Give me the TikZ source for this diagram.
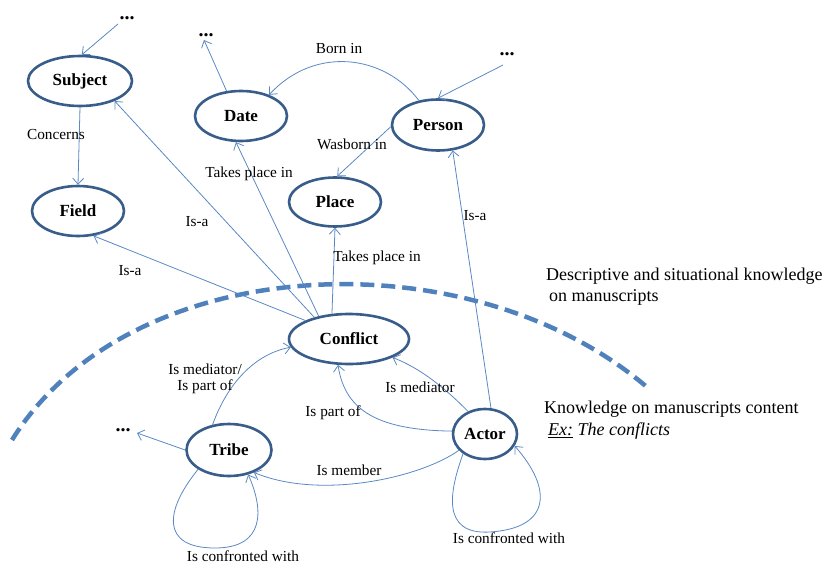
\documentclass[tikz,border=0pt]{standalone}
\usepackage{fontspec}
\setmainfont{Liberation Serif}
\usetikzlibrary{arrows.meta,shapes.geometric}
\definecolor{nodeblue}{RGB}{56,93,138}
\definecolor{edgeblue}{RGB}{90,136,196}
\definecolor{dashblue}{RGB}{79,129,189}
\tikzset{
  concept/.style={ellipse, draw=nodeblue, line width=2.6pt, fill=white, inner sep=0pt, font=\fontsize{17}{19}\selectfont\bfseries},
  link/.style={draw=edgeblue, line width=0.8pt, -{Straight Barb[length=6pt,width=11pt]}},
  lab/.style={font=\fontsize{15.3}{16.5}\selectfont, inner sep=0pt},
  side/.style={font=\fontsize{18}{21}\selectfont, inner sep=0pt, anchor=west},
  dots/.style={font=\fontsize{20}{20}\selectfont\bfseries, inner sep=0pt},
  divider/.style={draw=dashblue, line width=4.5pt, dash pattern=on 14pt off 7pt}
}
\begin{document}
\begin{tikzpicture}[x=1pt,y=-1pt]
\useasboundingbox (0,0) rectangle (829,564);
\draw[divider] (12,440) .. controls (130,250) and (470,235) .. (648,388);

% concept nodes
\node[concept, minimum width=104pt, minimum height=50pt] (subject)  at (80,81)   {Subject};
\node[concept, minimum width=92pt,  minimum height=50pt] (field)    at (78,211)  {Field};
\node[concept, minimum width=92pt,  minimum height=50pt] (date)     at (241,116) {Date};
\node[concept, minimum width=92pt,  minimum height=51pt] (person)   at (438,125) {Person};
\node[concept, minimum width=92pt,  minimum height=49pt] (place)    at (335,202) {Place};
\node[concept, minimum width=120pt, minimum height=50pt] (conflict) at (349,339) {Conflict};
\node[concept, minimum width=85pt,  minimum height=52pt] (tribe)    at (229,450) {Tribe};
\node[concept, minimum width=64pt,  minimum height=50pt] (actor)    at (485,434) {Actor};

% ellipsis marks
\node[dots] (d1) at (127,18) {...};
\node[dots] (d2) at (206,35) {...};
\node[dots] (d3) at (507,54) {...};
\node[dots] (d4) at (123,430) {...};
\coordinate (d1e) at (118,24);
\coordinate (d2e) at (204,40);
\coordinate (d3e) at (503,65);
\coordinate (d4e) at (137,433);

% connectors
\draw[link] (d1e) -- (subject.86);
\draw[link] (subject.south) -- (field.north);
\draw[link] (date.120) -- (d2e);
\draw[link] (person.128) .. controls (385,55) and (315,45) .. (date.37);
\draw[link] (d3e) -- (person.90);
\draw[link] (person.182) -- (place.85);
\draw[link] (conflict.148) -- (subject.-30);
\draw[link] (conflict.157) -- (field.-58);
\draw[link] (conflict.143) -- (date.-101);
\draw[link] (conflict.124) -- (place.south);
\draw[link] (actor.77) -- (person.-60);
\draw[link] (tribe.123) .. controls (225,390) and (250,355) .. (conflict.188);
\draw[link] (actor.127) .. controls (445,388) and (420,368) .. (conflict.-23);
\draw[link] (actor.175) .. controls (380,430) and (345,412) .. (conflict.-113);
\draw[link] (actor.212) .. controls (420,478) and (320,500) .. (tribe.-42);
\draw[link] (tribe.180) -- (d4e);
\draw[link] (tribe.212) .. controls (165,510) and (160,548) .. (215,548)
                        .. controls (265,548) and (264,510) .. (tribe.-52);
\draw[link] (actor.222) .. controls (450,490) and (440,535) .. (490,532)
                        .. controls (552,528) and (552,488) .. (actor.-22);

% connector labels
\node[lab] (l1)  at (56,135)  {Concerns};
\node[lab] (l2)  at (197,222) {Is-a};
\node[lab] (l3)  at (130,271) {Is-a};
\node[lab] (l4)  at (249,174) {Takes place in};
\node[lab] (l5)  at (339,49)  {Born in};
\node[lab] (l6)  at (352,144) {Wasborn in};
\node[lab] (l7)  at (475,216) {Is-a};
\node[lab] (l8)  at (377,258) {Takes place in};
\node[lab, align=center] (l9) at (205,379) {Is mediator/\\Is part of};
\node[lab] (l10) at (420,387) {Is mediator};
\node[lab] (l11) at (333,413) {Is part of};
\node[lab] (l12) at (349,470) {Is member};
\node[lab] (l13) at (243,556) {Is confronted with};
\node[lab] (l14) at (509,538) {Is confronted with};

% side texts
\node[side] (t1) at (546,276) {Descriptive and situational knowledge};
\node[side] (t2) at (549,297) {on manuscripts};
\node[side] (t3) at (544,409) {Knowledge on manuscripts content};
\node[side] (t4) at (548,431) {\underline{\textit{Ex:}} \textit{The conflicts}};
\end{tikzpicture}
\end{document}
